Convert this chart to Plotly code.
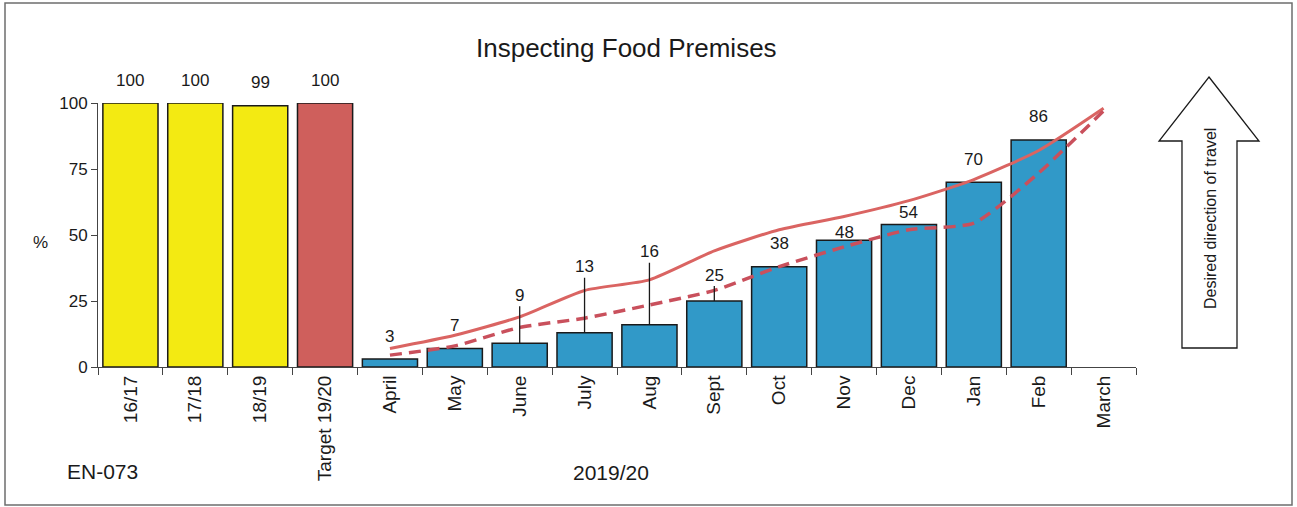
import plotly.graph_objects as go

# data
years = ['16/17', '17/18', '18/19']
year_values = [100, 100, 99]
target_label = ['Target 19/20']
target_value = [100]
months = ['April', 'May', 'June', 'July', 'Aug', 'Sept', 'Oct', 'Nov', 'Dec', 'Jan', 'Feb', 'March']
month_values = [3, 7, 9, 13, 16, 25, 38, 48, 54, 70, 86, None]
profile_upper = [7, 12, 19, 29, 33, 44, 52, 57, 63, 71, 82, 98]
profile_lower = [4.5, 8, 15, 18.5, 23.5, 29, 38, 45.5, 52, 54.5, 73.5, 97]

categories = years + target_label + months

# label placement (pixels above the bar top); leader lines where given
label_shift = {'Nov': 8, 'Dec': 12}
leader_len = {'June': 48, 'July': 66, 'Aug': 73, 'Sept': 26}

FONT = 'Liberation Sans, Arial, sans-serif'
INK = '#1a1a1a'

fig = go.Figure()

fig.add_trace(go.Bar(x=years, y=year_values, marker_color='#f3ea12',
                     marker_line_color=INK, marker_line_width=1.5))
fig.add_trace(go.Bar(x=target_label, y=target_value, marker_color='#cf5f5c',
                     marker_line_color=INK, marker_line_width=1.5))
fig.add_trace(go.Bar(x=months, y=month_values, marker_color='#3199c8',
                     marker_line_color=INK, marker_line_width=1.5))

fig.add_trace(go.Scatter(x=months, y=profile_upper, mode='lines',
                         line=dict(color='#da6462', width=3, shape='spline', smoothing=0.6),
                         cliponaxis=False))
fig.add_trace(go.Scatter(x=months, y=profile_lower, mode='lines',
                         line=dict(color='#c9505c', width=3.5, dash='12px,7px', shape='spline', smoothing=0.6),
                         cliponaxis=False))

labels_x = years + target_label + months
labels_y = year_values + target_value + month_values
for cat, val in zip(labels_x, labels_y):
    if val is None:
        continue
    if cat in leader_len:
        fig.add_annotation(x=cat, y=val, text=str(val), showarrow=True, arrowhead=0,
                           arrowwidth=1.3, arrowcolor=INK, ax=0, ay=-leader_len[cat],
                           standoff=0, font=dict(size=17, color=INK, family=FONT))
    else:
        fig.add_annotation(x=cat, y=val, text=str(val), showarrow=False,
                           yanchor='middle', yshift=label_shift.get(cat, 23),
                           font=dict(size=17, color=INK, family=FONT))

# plot area is 98..1136 px wide, 103..367 px tall
def px_x(p):
    return (p - 98) / 1038

def px_y(p):
    return (367 - p) / 264

def note(x, y, text, size, angle=0):
    fig.add_annotation(x=px_x(x), y=px_y(y), xref='paper', yref='paper', text=text,
                       xanchor='center', yanchor='middle', textangle=angle,
                       showarrow=False, font=dict(size=size, color=INK, family=FONT))

note(626, 48, 'Inspecting Food Premises', 26)
note(40, 242, '%', 17)
note(102, 471, 'EN-073', 21)
note(611, 473, '2019/20', 21)
note(1210, 219, 'Desired direction of travel', 16, angle=-90)

# up arrow outline
pts = [(1209, 77), (1259, 141), (1237, 141), (1237, 348), (1182, 348), (1182, 141), (1159, 141)]
path = 'M ' + ' L '.join(f'{px_x(a):.4f},{px_y(b):.4f}' for a, b in pts) + ' Z'
fig.add_shape(type='path', path=path, xref='paper', yref='paper',
              line=dict(color=INK, width=1.3), fillcolor='white', layer='below')

# outer frame
fig.add_shape(type='rect', xref='paper', yref='paper', x0=px_x(5), x1=px_x(1292),
              y0=px_y(505), y1=px_y(3), line=dict(color='#6e6e6e', width=1.5))

fig.update_layout(
    width=1297, height=507,
    margin=dict(l=98, r=161, t=103, b=140),
    barmode='overlay', bargap=0.15,
    showlegend=False,
    plot_bgcolor='white', paper_bgcolor='white',
    font=dict(family=FONT, color=INK),
)
fig.update_xaxes(type='category', categoryorder='array', categoryarray=categories,
                 range=[-0.5, len(categories) - 0.5], automargin=False,
                 tickangle=-90, tickson='boundaries', ticks='outside', ticklen=7,
                 tickcolor='#444', showline=True, linecolor='#444', linewidth=1,
                 tickfont=dict(size=19, color=INK), showgrid=False)
fig.update_yaxes(range=[0, 100], tickvals=[0, 25, 50, 75, 100], ticks='outside', ticklen=6,
                 tickcolor='#444', showline=True, linecolor='#444', linewidth=1, automargin=False,
                 tickfont=dict(size=17, color=INK), showgrid=False, zeroline=False)

fig.write_html('out.html', config={'displayModeBar': False},
               post_script="document.body.style.margin='0';")
